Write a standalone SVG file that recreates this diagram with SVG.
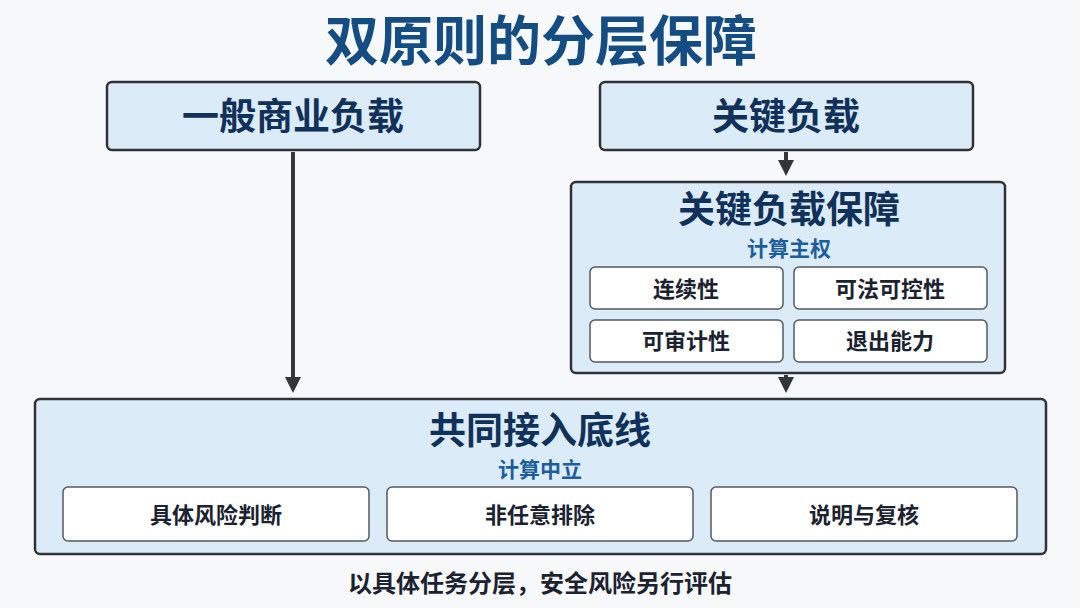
<svg xmlns="http://www.w3.org/2000/svg" width="1080" height="608" viewBox="0 0 1080 608">
<defs>
<style>
text{font-family:"Noto Sans CJK SC","Noto Sans",sans-serif;text-anchor:middle;font-weight:700}
.box{fill:#dcebf8;stroke:#2f3236;stroke-width:2.5}
.in{fill:#fff;stroke:#55595e;stroke-width:1.5}
.h{fill:#10315a;font-size:37px}
.s{fill:#1c5d9c;font-size:21px}
.t{fill:#1b2230;font-size:22px}
.c{stroke:#333639;stroke-width:4;fill:none}
</style>
<marker id="a" viewBox="0 0 10 10" refX="5" refY="5" markerWidth="4" markerHeight="4" orient="auto"><path d="M0,0 L10,5 L0,10 Z" fill="#333639"/></marker>
</defs>
<rect width="1080" height="608" fill="#f7f8fa"/>
<text x="541" y="61" font-size="54" fill="#144c84">双原则的分层保障</text>
<g id="n1"><rect class="box" x="107" y="82" width="373" height="68" rx="5"/><text class="h" x="293" y="130">一般商业负载</text></g>
<g id="n2"><rect class="box" x="600" y="82" width="373" height="68" rx="5"/><text class="h" x="786" y="130">关键负载</text></g>
<g id="n3"><rect class="box" x="571" y="182" width="434" height="191" rx="5"/>
<text class="h" x="789" y="223" font-size="33">关键负载保障</text><text class="s" x="789" y="256">计算主权</text>
<rect class="in" x="590" y="267" width="193" height="42" rx="5"/><text class="t" x="686" y="297">连续性</text>
<rect class="in" x="794" y="267" width="193" height="42" rx="5"/><text class="t" x="890" y="297">可法可控性</text>
<rect class="in" x="590" y="320" width="193" height="42" rx="5"/><text class="t" x="686" y="349">可审计性</text>
<rect class="in" x="794" y="320" width="193" height="42" rx="5"/><text class="t" x="890" y="349">退出能力</text></g>
<g id="n4"><rect class="box" x="35" y="399" width="1011" height="155" rx="5"/>
<text class="h" x="540" y="444" font-size="36">共同接入底线</text><text class="s" x="540" y="477">计算中立</text>
<rect class="in" x="63" y="487" width="306" height="54" rx="5"/><text class="t" x="216" y="523" font-size="24">具体风险判断</text>
<rect class="in" x="387" y="487" width="306" height="54" rx="5"/><text class="t" x="540" y="523" font-size="24">非任意排除</text>
<rect class="in" x="711" y="487" width="306" height="54" rx="5"/><text class="t" x="864" y="523" font-size="24">说明与复核</text></g>
<g id="connectors">
<line class="c" x1="293" y1="152" x2="293" y2="385" marker-end="url(#a)"/>
<line class="c" x1="786" y1="152" x2="786" y2="168" marker-end="url(#a)"/>
<line class="c" x1="786" y1="375" x2="786" y2="385" marker-end="url(#a)"/>
</g>
<text x="540" y="592" font-size="24" fill="#1b2230">以具体任务分层，安全风险另行评估</text>
</svg>
